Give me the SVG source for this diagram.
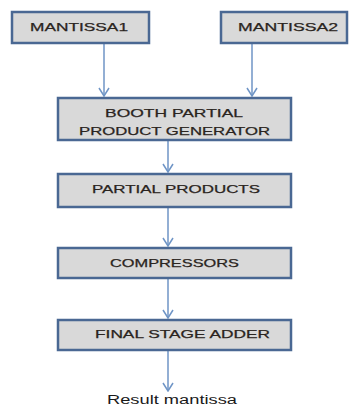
<svg xmlns="http://www.w3.org/2000/svg" width="349" height="406" viewBox="0 0 349 406">
<style>
.box{fill:#d9d9d9;stroke:#4a6893;stroke-width:2.5}
.t{font-family:"Liberation Sans",Arial,sans-serif;font-size:11.5px;fill:#2a2420;text-anchor:middle;stroke:#2a2420;stroke-width:0.25}
.r{font-family:"Liberation Sans",Arial,sans-serif;font-size:12.5px;fill:#1a1a1a;text-anchor:middle}
.c{stroke:#6f95c6;stroke-width:1.5;fill:none}
</style>
<defs>
<marker id="ah" markerWidth="10" markerHeight="12" refX="9" refY="6" orient="auto" markerUnits="userSpaceOnUse" viewBox="0 0 10 12">
<polyline points="1,1 9,6 1,11" fill="none" stroke="#6f95c6" stroke-width="1.5"/>
</marker>
</defs>
<g id="connectors">
<line class="c" x1="104" y1="43" x2="104" y2="96" marker-end="url(#ah)"/>
<line class="c" x1="252" y1="43" x2="252" y2="96" marker-end="url(#ah)"/>
<line class="c" x1="168" y1="140" x2="168" y2="172" marker-end="url(#ah)"/>
<line class="c" x1="168" y1="207" x2="168" y2="246" marker-end="url(#ah)"/>
<line class="c" x1="168" y1="278" x2="168" y2="318" marker-end="url(#ah)"/>
<line class="c" x1="168" y1="350" x2="168" y2="391" marker-end="url(#ah)"/>
</g>
<g id="mantissa1">
<rect class="box" x="12" y="12" width="137" height="31"/>
<text class="t" x="79" y="31" textLength="98" lengthAdjust="spacingAndGlyphs">MANTISSA1</text>
</g>
<g id="mantissa2">
<rect class="box" x="221" y="12" width="126" height="31"/>
<text class="t" x="288" y="31" textLength="100" lengthAdjust="spacingAndGlyphs">MANTISSA2</text>
</g>
<g id="booth">
<rect class="box" x="58" y="98" width="233" height="42"/>
<text class="t" x="174" y="117" textLength="138" lengthAdjust="spacingAndGlyphs">BOOTH PARTIAL</text>
<text class="t" x="174.5" y="135" textLength="191" lengthAdjust="spacingAndGlyphs">PRODUCT GENERATOR</text>
</g>
<g id="partial">
<rect class="box" x="58" y="174" width="233" height="33"/>
<text class="t" x="176" y="193" textLength="168" lengthAdjust="spacingAndGlyphs">PARTIAL PRODUCTS</text>
</g>
<g id="compressors">
<rect class="box" x="58" y="248" width="233" height="30"/>
<text class="t" x="174.5" y="267" textLength="129" lengthAdjust="spacingAndGlyphs">COMPRESSORS</text>
</g>
<g id="adder">
<rect class="box" x="58" y="320" width="233" height="30"/>
<text class="t" x="182.5" y="338" textLength="175" lengthAdjust="spacingAndGlyphs">FINAL STAGE ADDER</text>
</g>
<g id="result">
<text class="r" x="172" y="404" textLength="130" lengthAdjust="spacingAndGlyphs">Result mantissa</text>
</g>
</svg>
